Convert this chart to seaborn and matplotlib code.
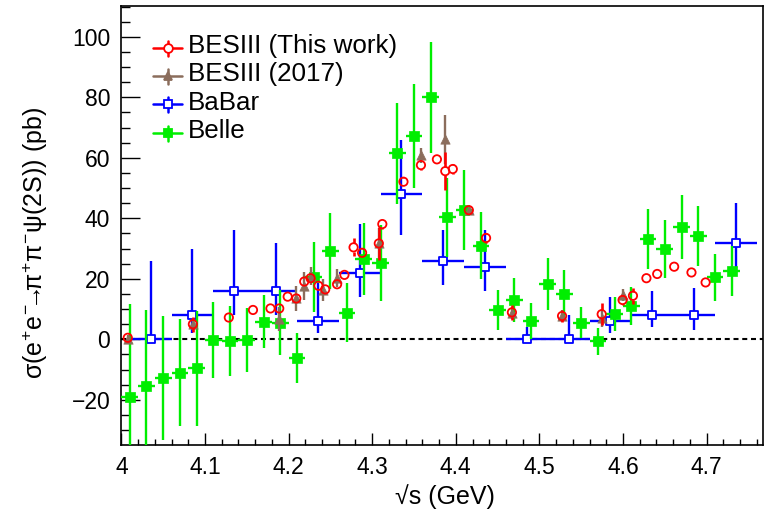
import numpy as np
import pandas as pd
import matplotlib
matplotlib.use("Agg")
import matplotlib.pyplot as plt
import seaborn as sns
from matplotlib.lines import Line2D

# ---------------- data ----------------
# BESIII (This work)
bes_x = [4.0076, 4.0855, 4.1285, 4.1574, 4.1783, 4.1888, 4.1989, 4.2092, 4.2187,
         4.2263, 4.2357, 4.2438, 4.2580, 4.2668, 4.2777, 4.2879, 4.3079, 4.3121,
         4.3374, 4.3583, 4.3774, 4.3874, 4.3964, 4.4156, 4.4362, 4.4671, 4.5271,
         4.5745, 4.5995, 4.6119, 4.6280, 4.6409, 4.6612, 4.6819, 4.6988]
bes_y = [0.5, 5.0, 7.2, 9.7, 10.2, 10.2, 14.1, 13.5, 19.1,
         20.2, 17.7, 16.5, 18.2, 21.3, 30.4, 28.6, 31.7, 38.1,
         52.1, 57.6, 59.5, 55.6, 56.3, 42.7, 33.5, 8.9, 7.7,
         8.3, 13.0, 14.4, 20.2, 21.6, 24.0, 22.1, 18.8]
bes_err = [1.0, 2.5, 1.0, 1.0, 1.0, 1.0, 1.0, 1.0, 1.0,
           1.0, 1.0, 1.0, 1.0, 1.0, 3.0, 1.5, 5.5, 1.5,
           1.5, 1.5, 1.5, 6.3, 1.5, 1.0, 1.5, 2.5, 2.0,
           3.7, 1.5, 2.7, 1.0, 1.0, 1.0, 1.0, 1.0]

# BESIII (2017)
b17_x = [4.0076, 4.0855, 4.1888, 4.2092, 4.2187, 4.2263, 4.2417, 4.2580, 4.3079,
         4.3583, 4.3874, 4.4156, 4.4671, 4.5271, 4.5745, 4.5995]
b17_y = [0.0, 5.0, 6.6, 13.5, 17.6, 20.9, 16.3, 20.4, 31.7,
         60.9, 66.1, 42.7, 8.6, 7.7, 7.0, 14.6]
b17_err = [1.5, 2.0, 4.0, 4.0, 4.5, 3.0, 3.5, 3.0, 5.0,
           2.5, 8.0, 1.5, 2.0, 2.0, 3.0, 2.0]

# BaBar
babar_x = [4.035, 4.085, 4.135, 4.185, 4.235, 4.285, 4.335, 4.385, 4.435, 4.485,
           4.535, 4.585, 4.635, 4.685, 4.735]
babar_y = [0, 8, 16, 16, 6, 22, 48, 26, 24, 0, 0, 6, 8, 8, 32]
babar_lo = [0, 6, 8, 8, 4, 8, 13.5, 8, 8, 0, 0, 4, 4, 5, 8.5]
babar_hi = [26, 22, 20, 16, 12.5, 16, 18, 10, 12, 4, 8, 8, 8, 9, 13]
babar_halfbin = 0.025

# Belle
belle_x = [4.01, 4.03, 4.05, 4.07, 4.09, 4.11, 4.13, 4.15, 4.17, 4.19, 4.21, 4.23,
           4.25, 4.27, 4.29, 4.31, 4.33, 4.35, 4.37, 4.39, 4.41, 4.43, 4.45, 4.47,
           4.49, 4.51, 4.53, 4.55, 4.57, 4.59, 4.61, 4.63, 4.65, 4.67, 4.69, 4.71, 4.73]
belle_y = [-19.2, -15.4, -12.7, -11.0, -9.6, -0.3, -0.5, -0.3, 5.8, 5.5, -6.1, 20.7,
           29.2, 8.8, 26.4, 25.3, 61.5, 67.2, 80.0, 40.3, 42.7, 31.0, 9.8, 13.0,
           6.0, 18.3, 15.0, 5.5, -0.6, 8.3, 11.0, 33.1, 29.8, 37.2, 34.1, 20.5, 22.7]
belle_err = [31.0, 25.0, 20.5, 17.8, 19.0, 12.5, 11.5, 10.6, 8.8, 10.7, 8.3, 11.6,
             12.7, 9.7, 11.9, 12.6, 16.7, 17.2, 18.3, 13.0, 13.3, 11.2, 6.6, 7.3,
             6.0, 8.5, 7.8, 5.2, 4.5, 5.7, 6.3, 10.0, 9.5, 10.6, 10.0, 7.7, 8.3]
belle_halfbin = 0.01

legend_labels = ["BESIII (This work)", "BESIII (2017)", "BaBar", "Belle"]
xtick_vals = [4.0, 4.1, 4.2, 4.3, 4.4, 4.5, 4.6, 4.7]
xtick_labels = ["4", "4.1", "4.2", "4.3", "4.4", "4.5", "4.6", "4.7"]
ytick_vals = [-20, 0, 20, 40, 60, 80, 100]

# ---------------- style ----------------
sns.set_theme(style="white")
plt.rcParams["font.family"] = ["Liberation Sans", "DejaVu Sans"]
plt.rcParams["mathtext.fontset"] = "custom"
plt.rcParams["mathtext.rm"] = "Liberation Sans"
plt.rcParams["mathtext.it"] = "Liberation Sans"
plt.rcParams["mathtext.sf"] = "Liberation Sans"
plt.rcParams["mathtext.fallback"] = "stixsans"

RED, BROWN, BLUE, GREEN = "#ff0000", "#8b6d5c", "#0000ff", "#00ee00"

W, H = 764, 512
fig = plt.figure(figsize=(W / 100, H / 100), dpi=100)
fig.patch.set_facecolor("white")
L, R, T, B = 121.4, 763.0, 5.7, 445.0
ax = fig.add_axes([L / W, 1 - B / H, (R - L) / W, (B - T) / H])
ax.set_facecolor("white")
ax.set_xlim(4.0, 4.0 + (R - L) / 836.0)
ax.set_ylim(-34.95, 110.3)

def yunits(px):
    lo, hi = ax.get_ylim()
    return px * (hi - lo) / (B - T)

# zero line
ax.axhline(0, color="black", lw=1.5, ls=(0, (2.4, 1.8)), zorder=1)

# BaBar
bx = np.array(babar_x); by = np.array(babar_y)
ax.hlines(by, bx - babar_halfbin, bx + babar_halfbin, color=BLUE, lw=1.7, zorder=2)
ax.vlines(bx, by - np.array(babar_lo), by + np.array(babar_hi), color=BLUE, lw=1.7, zorder=2)
sns.scatterplot(data=pd.DataFrame({"x": bx, "y": by}), x="x", y="y", marker="s", s=40,
                color="white", edgecolor=BLUE, linewidth=1.3, ax=ax, zorder=3, legend=False)

# Belle
gx = np.array(belle_x); gy = np.array(belle_y); ge = np.array(belle_err)
ax.hlines(gy, gx - belle_halfbin, gx + belle_halfbin, color=GREEN, lw=1.7, zorder=4)
ax.vlines(gx, gy - ge, gy + ge, color=GREEN, lw=1.7, zorder=4)
sns.scatterplot(data=pd.DataFrame({"x": gx, "y": gy}), x="x", y="y", marker="s", s=48,
                color=GREEN, edgecolor=GREEN, linewidth=0.5, ax=ax, zorder=5, legend=False)

# BESIII 2017
tx = np.array(b17_x); ty = np.array(b17_y); te = np.array(b17_err)
ax.vlines(tx, ty - te, ty + te, color=BROWN, lw=1.7, zorder=6)
sns.scatterplot(data=pd.DataFrame({"x": tx, "y": ty}), x="x", y="y", marker="^", s=45,
                color=BROWN, edgecolor=BROWN, linewidth=0.5, ax=ax, zorder=7, legend=False)

# BESIII this work (bars stop at the open marker edge)
rx = np.array(bes_x); ry = np.array(bes_y); re = np.array(bes_err)
gap = yunits(4.2)
m = re > gap
ax.vlines(rx[m], ry[m] + gap, ry[m] + re[m], color=RED, lw=1.9, zorder=8)
ax.vlines(rx[m], ry[m] - re[m], ry[m] - gap, color=RED, lw=1.9, zorder=8)
sns.scatterplot(data=pd.DataFrame({"x": rx, "y": ry}), x="x", y="y", marker="o", s=36,
                color="none", edgecolor=RED, linewidth=1.3, ax=ax, zorder=9, legend=False)

# axes, ticks
for s in ax.spines.values():
    s.set_color("black"); s.set_linewidth(1.2); s.set_visible(True)
ax.set_xticks(xtick_vals)
ax.set_xticklabels(xtick_labels)
ax.set_xticks(np.arange(4.0, 4.77, 0.02), minor=True)
ax.set_yticks(ytick_vals)
ax.set_yticks(np.arange(-30, 111, 5), minor=True)
ax.tick_params(which="both", direction="in", bottom=True, left=True, top=False, right=False,
               color="black", width=1.0, labelsize=16.5, labelcolor="black")
ax.tick_params(axis="x", which="major", length=8.6, pad=8)
ax.tick_params(axis="x", which="minor", length=4.3)
ax.tick_params(axis="y", which="major", length=13.7, pad=8)
ax.tick_params(axis="y", which="minor", length=6.8)
ax.set_xlabel(""); ax.set_ylabel("")

fig.text(445 / W, 1 - 497 / H, "\u221as (GeV)", ha="center", va="center",
         fontsize=18, color="black")
fig.text(35 / W, 1 - 243 / H,
         r"$\sigma(e^{+}e^{-}\!\!\!\rightarrow\!\!\!\pi^{+}\pi^{-}\psi(2S))$ (pb)",
         rotation=90, ha="center", va="center", fontsize=18, color="black")

# legend (manual, ROOT style)
entries = [
    (legend_labels[0], RED, "o", "white", 48.3, 45.5),
    (legend_labels[1], BROWN, "^", BROWN, 76.0, 74.0),
    (legend_labels[2], BLUE, "s", "white", 104.3, 102.7),
    (legend_labels[3], GREEN, "s", GREEN, 133.0, 131.0),
]
mx = 167.5
for label, col, mk, fc, my, ty_ in entries:
    yy = 1 - my / H
    fig.add_artist(Line2D([153 / W, 182 / W], [yy, yy], color=col, lw=1.8,
                          transform=fig.transFigure))
    fig.add_artist(Line2D([mx / W, mx / W], [1 - (my - 7.5) / H, 1 - (my + 7.5) / H],
                          color=col, lw=1.8, transform=fig.transFigure))
    fig.add_artist(Line2D([mx / W], [yy], marker=mk, markersize=6.3, markerfacecolor=fc,
                          markeredgecolor=col, markeredgewidth=1.3, ls="none",
                          transform=fig.transFigure))
    fig.text(188 / W, 1 - ty_ / H, label, ha="left", va="center", fontsize=18.7,
             color="black")

fig.savefig("out.png", dpi=100, facecolor="white")
